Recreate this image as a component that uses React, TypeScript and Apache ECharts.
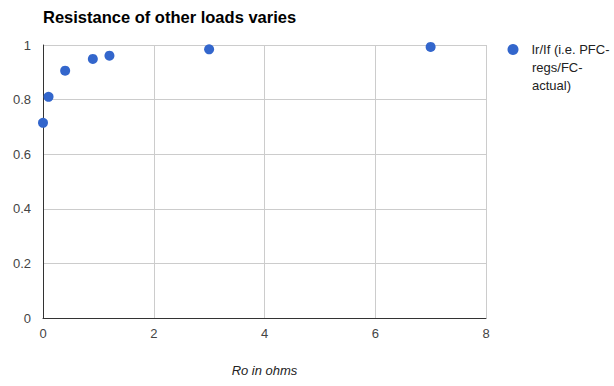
import React, { useEffect, useRef } from "react";
import * as echarts from "echarts";

const seriesName = "Ir/If (i.e. PFC-regs/FC-actual)";
const legendLines = ["Ir/If (i.e. PFC-", "regs/FC-", "actual)"];
const resistance = [0, 0.1, 0.4, 0.9, 1.2, 3, 7];
const ratio = [0.715, 0.81, 0.906, 0.949, 0.961, 0.984, 0.993];
const xTicks = [0, 2, 4, 6, 8];
const yTicks = [0, 0.2, 0.4, 0.6, 0.8, 1];

export default function App() {
  const ref = useRef<HTMLDivElement>(null);
  useEffect(() => {
    if (!ref.current) return;
    const chart = echarts.init(ref.current, undefined, { renderer: "svg" });
    const font = "Arial, 'Liberation Sans', sans-serif";
    chart.setOption({
      animation: false,
      backgroundColor: "#ffffff",
      title: {
        text: "Resistance of other loads varies",
        left: 43,
        top: 8,
        padding: 0,
        textStyle: { fontFamily: font, fontSize: 16.5, fontWeight: "bold", color: "#000" },
      },
      legend: {
        orient: "vertical",
        left: 507.5,
        top: 43,
        padding: 0,
        itemWidth: 27,
        itemHeight: 11,
        icon: "circle",
        data: [seriesName],
        formatter: () => legendLines[0],
        textStyle: { fontFamily: font, fontSize: 13, color: "#222" },
      },
      graphic: legendLines.slice(1).map((t, i) => ({
        type: "text",
        left: 532,
        top: 61 + i * 17.5,
        style: { text: t, font: `13px ${font}`, fill: "#222" },
      })),
      grid: { left: 43, right: 128, top: 45, bottom: 68, containLabel: false },
      xAxis: {
        type: "value",
        min: xTicks[0],
        max: xTicks[xTicks.length - 1],
        interval: 2,
        name: "Ro in ohms",
        nameLocation: "middle",
        nameGap: 46,
        nameTextStyle: { fontFamily: font, fontSize: 13, fontStyle: "italic", color: "#222" },
        axisLine: { show: true, onZero: false, lineStyle: { color: "#333", width: 1 } },
        axisTick: { show: false },
        axisLabel: { fontFamily: font, fontSize: 13, color: "#444", margin: 9 },
        splitLine: { show: true, lineStyle: { color: "#cccccc" } },
      },
      yAxis: {
        type: "value",
        min: yTicks[0],
        max: yTicks[yTicks.length - 1],
        interval: 0.2,
        axisLine: { show: true, onZero: false, lineStyle: { color: "#333", width: 1 } },
        axisTick: { show: false },
        axisLabel: { fontFamily: font, fontSize: 13, color: "#444", margin: 12 },
        splitLine: { show: true, lineStyle: { color: "#cccccc" } },
      },
      series: [
        {
          name: seriesName,
          type: "scatter",
          symbol: "circle",
          symbolSize: 10,
          itemStyle: { color: "#3366cc", opacity: 1 },
          data: resistance.map((x, i) => [x, ratio[i]]),
        },
      ],
    });
    return () => chart.dispose();
  }, []);
  return <div ref={ref} style={{ width: 614, height: 386, position: "absolute", left: 0, top: 0 }} />;
}
